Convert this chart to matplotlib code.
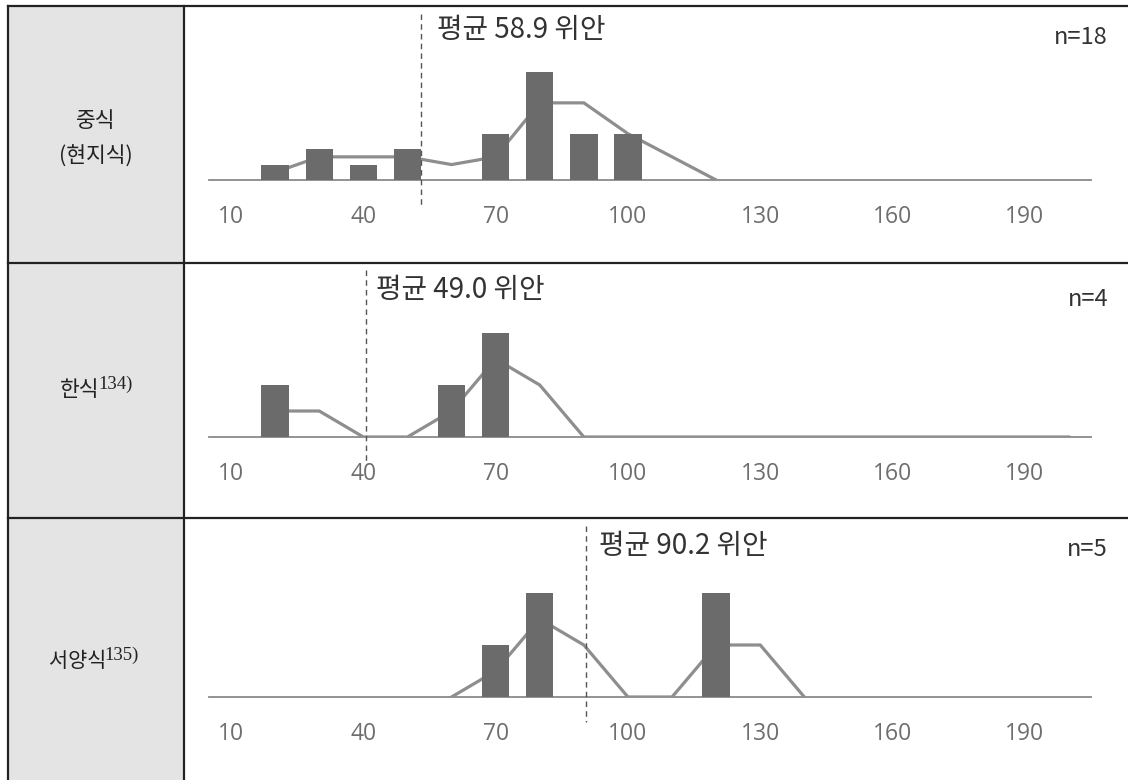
import matplotlib.pyplot as plt
from matplotlib.lines import Line2D
from matplotlib.patches import Rectangle

plt.rcParams['font.family'] = ['Noto Sans CJK KR', 'DejaVu Sans']

# data
bins = [10, 20, 30, 40, 50, 60, 70, 80, 90, 100, 110, 120, 130, 140, 150, 160, 170, 180, 190, 200]
tick_vals = [10, 40, 70, 100, 130, 160, 190]
tick_labels = ['10', '40', '70', '100', '130', '160', '190']

row_names = ['중식\n(현지식)', '한식', '서양식']
row_notes = ['', '134)', '135)']
mean_labels = ['평균 58.9 위안', '평균 49.0 위안', '평균 90.2 위안']
n_labels = ['n=18', 'n=4', 'n=5']

counts_cn = [0, 1, 2, 1, 2, 0, 3, 7, 3, 3, 0, 0, 0, 0, 0, 0, 0, 0, 0, 0]
counts_kr = [0, 1, 0, 0, 0, 1, 2, 0, 0, 0, 0, 0, 0, 0, 0, 0, 0, 0, 0, 0]
counts_west = [0, 0, 0, 0, 0, 0, 1, 2, 0, 0, 0, 2, 0, 0, 0, 0, 0, 0, 0, 0]

# moving-average lines as drawn
ma_cn_x = [20, 30, 40, 50, 60, 70, 80, 90, 100, 110, 120]
ma_cn_y = [0.5, 1.5, 1.5, 1.5, 1, 1.5, 5, 5, 3, 1.5, 0]
ma_kr_x = [20, 30, 40, 50, 60, 70, 80, 90, 100, 110, 120, 130, 140, 150, 160, 170, 180, 190, 200]
ma_kr_y = [0.5, 0.5, 0, 0, 0.5, 1.5, 1, 0, 0, 0, 0, 0, 0, 0, 0, 0, 0, 0, 0]
ma_west_x = [60, 70, 80, 90, 100, 110, 120, 130, 140]
ma_west_y = [0, 0.5, 1.5, 1, 0, 0, 1, 1, 0]

# dashed "mean" marker positions as drawn in the source
mean_marks = [53.0, 40.6, 90.6]

W, H = 1128, 780
def fx(x):
    return x / W
def fy(y):
    return 1 - y / H

fig = plt.figure(figsize=(W / 100, H / 100), dpi=100)

# table frame
fig.patches.append(Rectangle((fx(8), fy(780)), fx(184) - fx(8), fy(6) - fy(780),
                             transform=fig.transFigure, facecolor='#e4e4e4', edgecolor='none'))
frame = dict(color='#222222', lw=1.6, transform=fig.transFigure)
fig.lines.append(Line2D([fx(8), fx(1128)], [fy(6), fy(6)], **frame))
fig.lines.append(Line2D([fx(8), fx(1128)], [fy(263), fy(263)], **frame))
fig.lines.append(Line2D([fx(8), fx(1128)], [fy(518), fy(518)], **frame))
fig.lines.append(Line2D([fx(8), fx(8)], [fy(6), fy(780)], **frame))
fig.lines.append(Line2D([fx(184), fx(184)], [fy(6), fy(780)], **frame))

counts = [counts_cn, counts_kr, counts_west]
ma_x = [ma_cn_x, ma_kr_x, ma_west_x]
ma_y = [ma_cn_y, ma_kr_y, ma_west_y]

baselines = [180, 437, 697]
heights = [108, 104, 104]
dash_px = [(14, 205), (270, 463), (526, 722)]
text_px = [30, 290, 546]
text_gap = [12, 7, 9]
n_px = [37, 299, 550]

for i in range(3):
    b = baselines[i]
    h = heights[i]
    ax = fig.add_axes([fx(209), fy(b), fx(1091) - fx(209), h / H])
    ax.patch.set_alpha(0)
    ax.plot(ma_x[i], ma_y[i], color='#8e8e8e', lw=2.3, zorder=2, solid_joinstyle='miter')
    ax.bar(bins, counts[i], width=6.2, color='#6b6b6b', zorder=3)
    ax.set_xlim(5, 205)
    ax.set_ylim(0, max(counts[i]))
    for s in ['top', 'right', 'left']:
        ax.spines[s].set_visible(False)
    ax.spines['bottom'].set_color('#8a8a8a')
    ax.spines['bottom'].set_linewidth(1.3)
    ax.spines['bottom'].set_zorder(1)
    ax.set_yticks([])
    ax.set_xticks(tick_vals, tick_labels)
    ax.tick_params(axis='x', length=0, pad=18, labelsize=16.5, labelcolor='#6e6e6e')
    for t in ax.get_xticklabels():
        t.set_family('Open Sans')

    tr = ax.get_xaxis_transform()
    y0 = (b - dash_px[i][0]) / h
    y1 = (b - dash_px[i][1]) / h
    ax.plot([mean_marks[i], mean_marks[i]], [y0, y1], transform=tr, clip_on=False,
            color='#555555', lw=1.0, dashes=(4, 3), zorder=4)
    ax.annotate(mean_labels[i], xy=(mean_marks[i], (b - text_px[i]) / h), xycoords=tr,
                xytext=(text_gap[i], 0), textcoords='offset points', ha='left', va='center',
                fontsize=20, color='#333333')

    fig.text(fx(1108), fy(n_px[i]), n_labels[i], ha='right', va='center',
             fontsize=17, color='#333333')

# row labels in the grey column
fig.text(fx(96), fy(139), row_names[0], ha='center', va='center',
         fontsize=15.5, color='#222222', linespacing=1.8)
fig.text(fx(99), fy(390), row_names[1], ha='right', va='center',
         fontsize=15.5, color='#222222')
fig.text(fx(98), fy(384), row_notes[1], ha='left', va='center',
         fontsize=13.5, color='#222222', family='Liberation Serif')
fig.text(fx(106), fy(661), row_names[2], ha='right', va='center',
         fontsize=15, color='#222222')
fig.text(fx(104), fy(655), row_notes[2], ha='left', va='center',
         fontsize=13.5, color='#222222', family='Liberation Serif')

fig.savefig('out.png', dpi=100)
